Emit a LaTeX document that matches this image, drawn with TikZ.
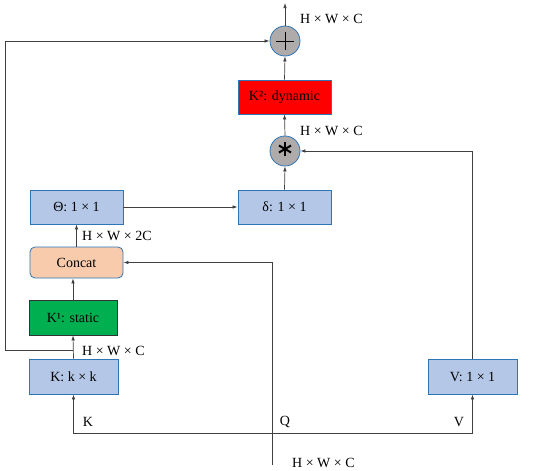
\documentclass[tikz,border=0pt]{standalone}
\usepackage{fontspec}
\setmainfont{Liberation Serif}
\usepackage{tikz}
\usetikzlibrary{positioning, calc, arrows.meta, shapes}
\definecolor{boxblue}{RGB}{180,199,231}
\definecolor{edgeblue}{RGB}{46,117,182}
\definecolor{peach}{RGB}{248,203,173}
\definecolor{staticgreen}{RGB}{0,176,80}
\definecolor{opgray}{RGB}{175,171,171}
\definecolor{wire}{RGB}{64,64,64}

\begin{document}
\begin{tikzpicture}[x=1pt, y=-1pt, font=\fontsize{14}{16}\selectfont,
	conv/.style={draw=edgeblue, fill=boxblue, line width=0.8pt, minimum width=93pt, minimum height=34pt, inner sep=2pt},
	opnode/.style={circle, draw=edgeblue, fill=opgray, line width=0.8pt, minimum size=30pt, inner sep=0pt},
	flow/.style={draw=wire, line width=0.7pt, -{Latex[length=5pt,width=3.5pt]}},
	dimlabel/.style={anchor=west, inner sep=0pt}]
	\useasboundingbox (0,0) rectangle (550,471);
	% operators
	\node[opnode] (plus) at (285,41) {};
	\draw[line width=0.8pt] ($(plus)+(-9,0)$) -- ($(plus)+(9,0)$) ($(plus)+(0,-9)$) -- ($(plus)+(0,9)$);
	\node[opnode] (star) at (285,151) {};
	\foreach \ang in {90,30,150}
		\draw[line width=2pt] ($(star)+(0,-2)+(\ang:7)$) -- ($(star)+(0,-2)+(\ang+180:7)$);
	% boxes
	\node[conv, fill=red] (kdyn) at (284.5,97) {K²: dynamic};
	\node[conv] (delta) at (284.5,207) {δ: 1 × 1};
	\node[conv] (theta) at (76.5,207) {Θ: 1 × 1};
	\node[conv, fill=peach, rounded corners=5pt, minimum height=31pt] (concat) at (76.5,262.5) {Concat};
	\node[conv, draw=black!80, fill=staticgreen, minimum width=88pt, minimum height=35pt] (kstat) at (73,317.5) {K¹: static};
	\node[conv, minimum width=89pt, minimum height=35pt] (kbox) at (73.5,376.5) {K: k × k};
	\node[conv, minimum width=89pt, minimum height=35pt] (vbox) at (472.5,376.5) {V: 1 × 1};
	% helper points
	\coordinate (top) at (285,3);
	\coordinate (split) at (73,350);
	\coordinate (back) at (5,350);
	\coordinate (in) at (272,465);
	\coordinate (qsplit) at (272,433);
	% main path
	\draw[flow] (kbox.north) -- (kstat.south);
	\draw[flow] (kstat.north) -- (kstat.north |- concat.south);
	\draw[flow] (concat.north) -- (theta.south);
	\draw[flow] (theta.east) -- (delta.west);
	\draw[flow] (delta.north) -- (star.south);
	\draw[flow] (star.north) -- (kdyn.south);
	\draw[flow] (kdyn.north) -- (plus.south);
	\draw[flow] (plus.north) -- (top);
	% residual
	\draw[flow] (split) -- (back) |- (plus.west);
	% inputs
	\draw[flow] (in) |- (concat.east);
	\draw[flow] (qsplit) -| (kbox.south);
	\draw[flow] (qsplit) -| (vbox.south);
	\draw[flow] (vbox.north) |- (star.east);
	% labels
	\node[dimlabel] (lout) at (300,19) {H × W × C};
	\node[dimlabel] (lmul) at (300,131) {H × W × C};
	\node[dimlabel] (lcat) at (82,236) {H × W × 2C};
	\node[dimlabel] (lk) at (82,351) {H × W × C};
	\node[dimlabel] (lin) at (292,463) {H × W × C};
	\node (tk) at (88,422) {K};
	\node (tq) at (285,422) {Q};
	\node (tv) at (459,422) {V};
\end{tikzpicture}
\end{document}
